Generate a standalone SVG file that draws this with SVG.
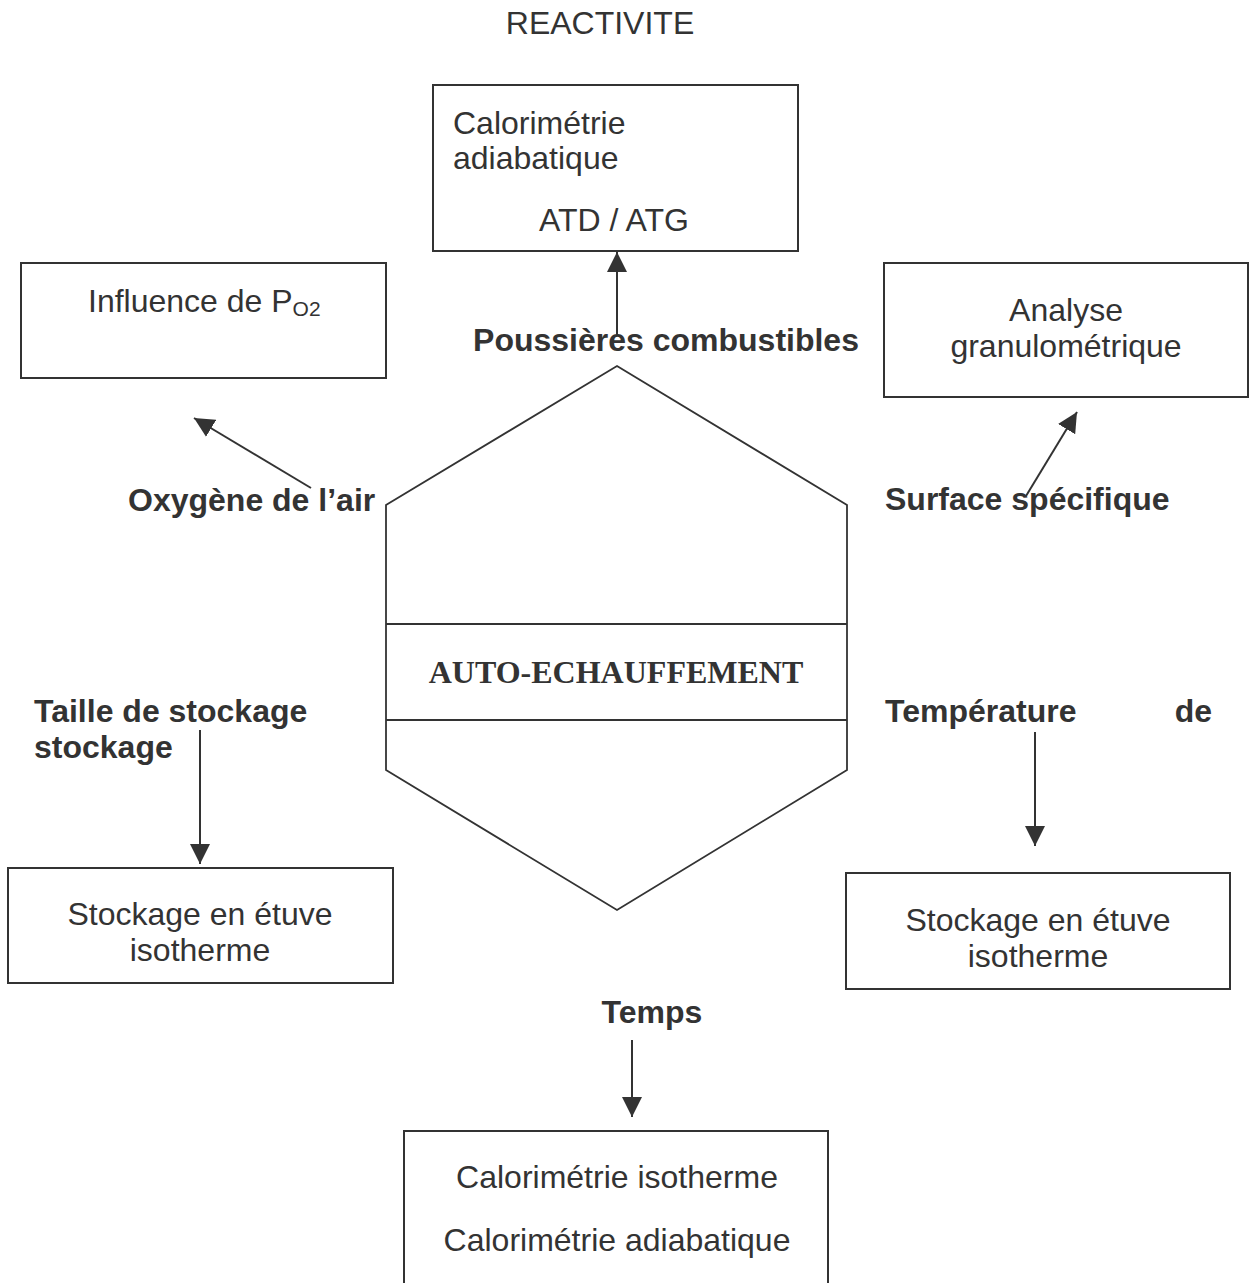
<svg xmlns="http://www.w3.org/2000/svg" width="1249" height="1283" viewBox="0 0 1249 1283">
<style>
.box{fill:#fff;stroke:#333;stroke-width:2}
.hex{fill:none;stroke:#333;stroke-width:1.8}
.t{font-family:"Liberation Sans",Arial,sans-serif;font-size:32px;fill:#333}
.b{font-family:"Liberation Sans",Arial,sans-serif;font-size:32px;font-weight:bold;fill:#333}
.c{text-anchor:middle}
.conn{stroke:#333;stroke-width:2;fill:none;marker-end:url(#ah)}
</style>
<defs>
<marker id="ah" viewBox="0 0 20 20" refX="20" refY="10" markerWidth="20" markerHeight="20" markerUnits="userSpaceOnUse" orient="auto">
<path d="M0,0 L20,10 L0,20 z" fill="#333"/>
</marker>
</defs>
<rect width="1249" height="1283" fill="#fff"/>
<text class="t c" x="600" y="34">REACTIVITE</text>
<g id="hexagon">
<polygon class="hex" points="617,366 847,505 847,770 617,910 386,770 386,505"/>
<line class="hex" x1="386" y1="624" x2="847" y2="624"/>
<line class="hex" x1="386" y1="720" x2="847" y2="720"/>
<text x="616" y="683" text-anchor="middle" font-family="'Liberation Serif','Times New Roman',serif" font-weight="bold" font-size="32" fill="#333">AUTO-ECHAUFFEMENT</text>
</g>
<g id="top-box">
<rect class="box" x="433" y="85" width="365" height="166"/>
<text class="t" x="453" y="134">Calorimétrie</text>
<text class="t" x="453" y="169">adiabatique</text>
<text class="t c" x="614" y="231">ATD / ATG</text>
</g>
<g id="left-box">
<rect class="box" x="21" y="263" width="365" height="115"/>
<text class="t" x="88" y="312">Influence de P<tspan font-size="21" dy="4">O2</tspan></text>
</g>
<g id="right-box">
<rect class="box" x="884" y="263" width="364" height="134"/>
<text class="t c" x="1066" y="321">Analyse</text>
<text class="t c" x="1066" y="357">granulométrique</text>
</g>
<g id="bl-box">
<rect class="box" x="8" y="868" width="385" height="115"/>
<text class="t c" x="200" y="925">Stockage en étuve</text>
<text class="t c" x="200" y="961">isotherme</text>
</g>
<g id="br-box">
<rect class="box" x="846" y="873" width="384" height="116"/>
<text class="t c" x="1038" y="931">Stockage en étuve</text>
<text class="t c" x="1038" y="967">isotherme</text>
</g>
<g id="bottom-box">
<rect class="box" x="404" y="1131" width="424" height="170"/>
<text class="t c" x="617" y="1188">Calorimétrie isotherme</text>
<text class="t c" x="617" y="1251">Calorimétrie adiabatique</text>
</g>
<g id="labels">
<text class="b c" x="666" y="351">Poussières combustibles</text>
<text class="b" x="128" y="511">Oxygène de l’air</text>
<text class="b" x="885" y="510">Surface spécifique</text>
<text class="b" x="34" y="722">Taille de stockage</text>
<text class="b" x="34" y="758">stockage</text>
<text class="b" x="885" y="722">Température</text>
<text class="b" x="1212" y="722" text-anchor="end">de</text>
<text class="b c" x="652" y="1023">Temps</text>
</g>
<g id="connectors">
<line class="conn" x1="617" y1="336" x2="617" y2="252"/>
<line class="conn" x1="311" y1="488" x2="194" y2="418"/>
<line class="conn" x1="1026" y1="496" x2="1077" y2="412"/>
<line class="conn" x1="200" y1="730" x2="200" y2="864"/>
<line class="conn" x1="1035" y1="732" x2="1035" y2="846"/>
<line class="conn" x1="632" y1="1040" x2="632" y2="1117"/>
</g>
</svg>
